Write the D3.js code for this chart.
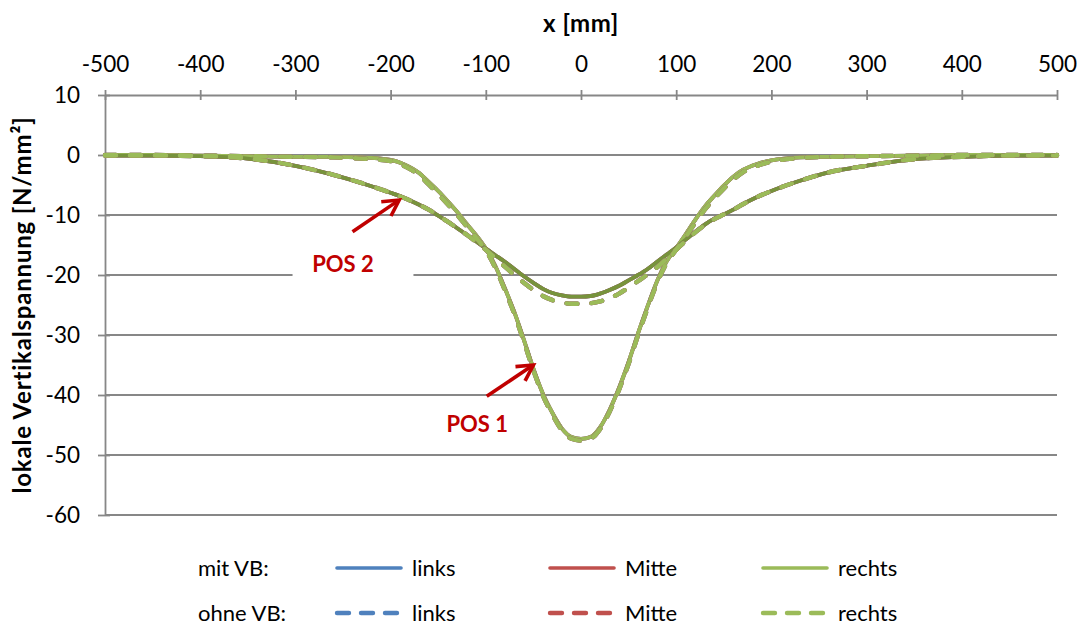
<!DOCTYPE html>
<html>
<head>
<meta charset="utf-8">
<script src="https://cdn.jsdelivr.net/npm/d3@7"></script>
<style>
  body { margin: 0; background: #fff; }
  text { font-family: Lato, "Open Sans", sans-serif; fill: #000; }
</style>
</head>
<body>
<svg id="chart" width="1079" height="627"></svg>
<script>
// x positions along the beam [mm]
var xMm = [-500, -450, -400, -350, -300, -260, -230, -200, -185, -170, -160, -150, -140, -130, -120, -110,
  -100, -90, -80, -70, -60, -50, -40, -30, -20, -10, 0, 10, 20, 30, 40, 50, 60, 70, 80, 90,
  100, 110, 120, 130, 140, 150, 160, 170, 185, 200, 230, 260, 300, 350, 400, 450, 500];

// POS 1 (narrow), mit VB
var pos1Mit = [0.0, 0.0, -0.1, -0.2, -0.3, -0.3, -0.4, -0.8, -1.6, -3.0, -4.5, -6.0, -7.7, -9.5, -11.5, -13.4,
  -15.6, -18.5, -22.2, -26.2, -30.8, -35.6, -39.8, -43.0, -45.6, -47.0, -47.3, -47.0, -45.4, -42.5, -38.8, -34.5, -29.7, -25.2, -21.0, -17.7,
  -15.5, -13.2, -10.8, -8.6, -6.8, -5.1, -3.6, -2.5, -1.5, -0.9, -0.4, -0.3, -0.2, -0.1, 0.0, 0.0, 0.0];
// POS 1 (narrow), ohne VB
var pos1Ohne = [0.0, 0.0, -0.1, -0.2, -0.3, -0.4, -0.6, -1.0, -1.9, -3.4, -4.9, -6.5, -8.2, -10.0, -11.9, -13.8,
  -15.9, -18.8, -22.5, -26.5, -31.1, -35.9, -40.1, -43.3, -45.9, -47.3, -47.6, -47.3, -45.7, -42.8, -39.1, -34.8, -30.0, -25.5, -21.3, -18.0,
  -15.8, -13.6, -11.3, -9.1, -7.3, -5.6, -4.1, -2.9, -1.8, -1.1, -0.5, -0.3, -0.2, -0.1, 0.0, 0.0, 0.0];
// POS 2 (wide), mit VB
var pos2Mit = [-0.1, -0.1, -0.2, -0.6, -1.8, -3.3, -4.7, -6.3, -7.2, -8.3, -9.1, -10.1, -11.1, -12.2, -13.3, -14.4,
  -15.6, -16.7, -17.8, -19.0, -20.2, -21.3, -22.3, -23.0, -23.4, -23.6, -23.6, -23.5, -23.1, -22.5, -21.8, -20.9, -20.0, -19.0, -17.8, -16.6,
  -15.4, -14.1, -12.8, -11.6, -10.6, -9.9, -9.1, -8.2, -7.0, -6.0, -4.3, -2.9, -1.8, -0.7, -0.3, -0.1, -0.1];
// POS 2 (wide), ohne VB
var pos2Ohne = [-0.1, -0.1, -0.2, -0.6, -1.8, -3.3, -4.7, -6.3, -7.2, -8.3, -9.1, -10.1, -11.1, -12.2, -13.3, -14.5,
  -15.8, -17.2, -18.6, -20.0, -21.3, -22.5, -23.5, -24.2, -24.6, -24.8, -24.8, -24.7, -24.4, -23.9, -23.1, -22.1, -21.0, -19.9, -18.7, -17.3,
  -15.8, -14.3, -12.9, -11.7, -10.7, -9.9, -9.1, -8.2, -7.0, -6.0, -4.3, -2.9, -1.8, -0.7, -0.3, -0.1, -0.1];

var xTicks = [-500, -400, -300, -200, -100, 0, 100, 200, 300, 400, 500];
var yTicks = [10, 0, -10, -20, -30, -40, -50, -60];
var sides = ["links", "Mitte", "rechts"];
var sideColors = ["#4F81BD", "#C0504D", "#9BBB59"];
var pos2SolidColor = "#77933C";
var legendRows = ["mit VB:", "ohne VB:"];

// annotations in data units: label, label position, arrow tail, arrow tip
var annoLabels = ["POS 2", "POS 1"];
var annoText = [[-250, -18.2], [-109, -44.8]];
var annoTail = [[-240, -12.8], [-99, -40.2]];
var annoTip = [[-191, -7.5], [-50, -35]];

var svg = d3.select("#chart");
var x = d3.scaleLinear().domain([-500, 500]).range([105, 1057]);
var y = d3.scaleLinear().domain([-60, 10]).range([515, 95]);
var grey = "#878787";
var fmt = function (d) { return String(d); }; // plain hyphen like the original

// grid lines
svg.append("g").selectAll("line").data(yTicks.filter(function (d) { return d < 10; }))
  .enter().append("line")
  .attr("x1", x(-500)).attr("x2", x(500))
  .attr("y1", function (d) { return y(d); }).attr("y2", function (d) { return y(d); })
  .attr("stroke", grey).attr("stroke-width", 1.8);

// white box behind POS 2 label
svg.append("rect")
  .attr("x", x(-303)).attr("y", y(-15.8))
  .attr("width", x(-176) - x(-303)).attr("height", y(-21.3) - y(-15.8))
  .attr("fill", "#fff");

// axes
var xAxis = svg.append("g").attr("transform", "translate(0," + y(10) + ")")
  .call(d3.axisTop(x).tickValues(xTicks).tickFormat(fmt).tickSizeInner(5).tickSizeOuter(0).tickPadding(18));
xAxis.selectAll(".tick line").attr("y1", 5).attr("stroke", grey).attr("stroke-width", 1.8);
xAxis.select(".domain").attr("stroke", grey).attr("stroke-width", 1.8);
xAxis.selectAll("text").style("font-size", "22.5px").attr("fill", "#000");

var yAxis = svg.append("g").attr("transform", "translate(" + x(-500) + ",0)")
  .call(d3.axisLeft(y).tickValues(yTicks).tickFormat(fmt).tickSizeInner(7).tickSizeOuter(0).tickPadding(18));
yAxis.selectAll(".tick line").attr("x1", 5).attr("stroke", grey).attr("stroke-width", 1.8);
yAxis.select(".domain").attr("stroke", grey).attr("stroke-width", 1.8);
yAxis.selectAll("text").style("font-size", "22.5px").attr("fill", "#000");

// titles
svg.append("text").attr("x", x(0)).attr("y", 32).attr("text-anchor", "middle")
  .style("font-size", "24px").style("font-weight", "bold").style("letter-spacing", "0.6px").text("x [mm]");
svg.append("text").attr("transform", "translate(31," + y(-25) + ") rotate(-90)")
  .attr("text-anchor", "middle")
  .style("font-size", "24px").style("font-weight", "bold").style("letter-spacing", "0.8px")
  .text("lokale Vertikalspannung [N/mm²]");

// series
var line = d3.line().x(function (d) { return x(d[0]); }).y(function (d) { return y(d[1]); })
  .curve(d3.curveMonotoneX);
function pts(vals) { return xMm.map(function (v, i) { return [v, vals[i]]; }); }

var series = [];
[["mit", pos1Mit, pos2Mit], ["ohne", pos1Ohne, pos2Ohne]].forEach(function (g) {
  sides.forEach(function (s, i) {
    series.push({ vb: g[0], side: s, color: sideColors[i], values: g[1] });
    series.push({ vb: g[0], side: s, color: (g[0] === "mit" && s === "rechts") ? pos2SolidColor : sideColors[i], values: g[2] });
  });
});

svg.append("g").selectAll("path").data(series).enter().append("path")
  .attr("d", function (d) { return line(pts(d.values)); })
  .attr("fill", "none")
  .attr("stroke", function (d) { return d.color; })
  .attr("stroke-width", function (d) { return d.vb === "mit" ? 3.8 : 4.4; })
  .attr("stroke-linecap", "round")
  .attr("stroke-linejoin", "round")
  .attr("stroke-dasharray", function (d) { return d.vb === "mit" ? null : "11,14"; });

// annotations
var red = "#C00000";
annoLabels.forEach(function (lab, i) {
  var t0 = [x(annoTail[i][0]), y(annoTail[i][1])];
  var t1 = [x(annoTip[i][0]), y(annoTip[i][1])];
  var a = Math.atan2(t1[1] - t0[1], t1[0] - t0[0]);
  var L = 18, w = 0.5;
  var p1 = [t1[0] - L * Math.cos(a - w), t1[1] - L * Math.sin(a - w)];
  var p2 = [t1[0] - L * Math.cos(a + w), t1[1] - L * Math.sin(a + w)];
  svg.append("line").attr("x1", t0[0]).attr("y1", t0[1]).attr("x2", t1[0] - 2 * Math.cos(a)).attr("y2", t1[1] - 2 * Math.sin(a))
    .attr("stroke", red).attr("stroke-width", 3.6);
  svg.append("path").attr("d", "M" + p1 + "L" + t1 + "L" + p2)
    .attr("fill", "none").attr("stroke", red).attr("stroke-width", 3.6).attr("stroke-linejoin", "miter");
  svg.append("text").attr("x", x(annoText[i][0])).attr("y", y(annoText[i][1])).attr("dy", "0.36em")
    .attr("text-anchor", "middle").style("font-size", "22px").style("font-weight", "bold")
    .style("fill", red).text(lab);
});

// legend
var legRowY = [568, 613];
var legColX = [335, 548, 761];
legendRows.forEach(function (r, ri) {
  svg.append("text").attr("x", 198).attr("y", legRowY[ri]).attr("dy", "0.36em")
    .style("font-size", "22px").text(r);
  sides.forEach(function (s, ci) {
    svg.append("line").attr("x1", legColX[ci] + 2).attr("x2", legColX[ci] + 66)
      .attr("y1", legRowY[ri]).attr("y2", legRowY[ri])
      .attr("stroke", sideColors[ci]).attr("stroke-width", ri === 0 ? 3.6 : 4.4)
      .attr("stroke-linecap", "round")
      .attr("stroke-dasharray", ri === 0 ? null : "12,12");
    svg.append("text").attr("x", legColX[ci] + 77).attr("y", legRowY[ri]).attr("dy", "0.36em")
      .style("font-size", "22px").text(s);
  });
});
</script>
</body>
</html>
